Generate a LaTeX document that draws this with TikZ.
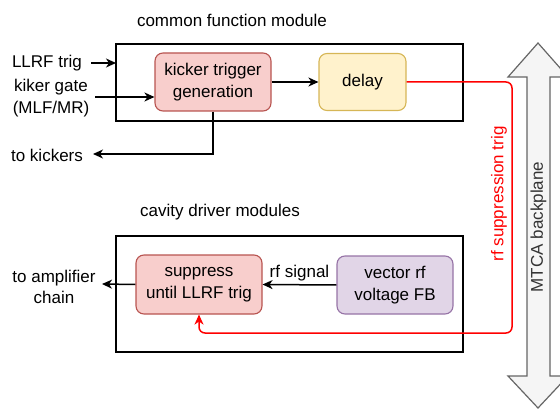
\documentclass[tikz,border=0pt]{standalone}
\usepackage{fontspec}
\setmainfont{Liberation Sans}
\usetikzlibrary{arrows.meta,calc}
\definecolor{redfill}{HTML}{F8CECC}
\definecolor{redline}{HTML}{B85450}
\definecolor{yelfill}{HTML}{FFF2CC}
\definecolor{yelline}{HTML}{D6B656}
\definecolor{purfill}{HTML}{E1D5E7}
\definecolor{purline}{HTML}{9673A6}
\definecolor{bpfill}{HTML}{F5F5F5}
\definecolor{bpline}{HTML}{666666}
\definecolor{bptext}{HTML}{333333}
\definecolor{trigred}{HTML}{FF0000}
\tikzset{
  blk/.style={draw, rounded corners=8pt, line width=1.1pt, align=center, inner sep=0pt},
  modbox/.style={draw=black, line width=1.6pt},
  lbl/.style={align=center, inner sep=1pt},
  conn/.style={line width=1.5pt, -{Stealth[length=10pt,width=9pt,inset=3pt]}},
}
\begin{document}
\begin{tikzpicture}[x=1pt,y=-1pt,font=\fontsize{17}{21.5}\selectfont]
\useasboundingbox (0,0) rectangle (560,409);
% MTCA backplane double arrow
\draw[fill=bpfill, draw=bpline, line width=1.2pt]
  (538,43) -- (568,77) -- (550,77) -- (550,376) -- (568,376) -- (538,408)
  -- (508,376) -- (527,376) -- (527,77) -- (508,77) -- cycle;
\node[lbl, rotate=90, text=bptext] (mtca) at (538.5,227) {MTCA backplane};
% module boxes
\draw[modbox] (116,44) rectangle (463,121);
\draw[modbox] (116,236) rectangle (463,352);
\node[lbl] (cfm) at (232,20) {common function module};
\node[lbl] (cdm) at (220,212) {cavity driver modules};
% blocks
\node[blk, fill=redfill, draw=redline, minimum width=116pt, minimum height=58pt] (kgen) at (213,82) {kicker trigger\\generation};
\node[blk, fill=yelfill, draw=yelline, minimum width=87pt, minimum height=57pt] (delay) at (362.5,82) {delay};
\node[blk, fill=redfill, draw=redline, minimum width=126pt, minimum height=59pt] (supp) at (199,284.5) {suppress\\until LLRF trig};
\node[blk, fill=purfill, draw=purline, minimum width=116pt, minimum height=58pt] (vec) at (395,285) {vector rf\\voltage FB};
% outside labels
\node[lbl] (llrf) at (47,63) {LLRF trig};
\node[lbl] (gate) at (51,98) {kiker gate\\(MLF/MR)};
\node[lbl] (kick) at (47,155) {to kickers};
\node[lbl] (amp) at (54,287) {to amplifier\\chain};
\coordinate (llrfin) at (116,63);
\coordinate (llrfout) at (91,63);
\coordinate (gateout) at (95,97);
\coordinate (kickend) at (93,154);
\coordinate (ampend) at (102,284);
\coordinate (rc) at (512,333);
% connectors
\draw[conn] (llrfout) -- (llrfin);
\draw[conn] (gateout) -- (kgen.west |- gateout);
\draw[conn] (kgen) -- (delay);
\draw[conn] (kgen.south) |- (kickend);
\draw[conn] (vec.west) -- node[above, inner sep=3pt] (rfs) {rf signal} (supp.east);
\draw[conn] (supp.west) -- (ampend);
\draw[conn, draw=trigred, rounded corners=6pt] (delay.east) -| (rc) -| (supp.south);
\node[lbl, rotate=90, text=trigred] (rft) at (499,194) {rf suppression trig};
\end{tikzpicture}
\end{document}
